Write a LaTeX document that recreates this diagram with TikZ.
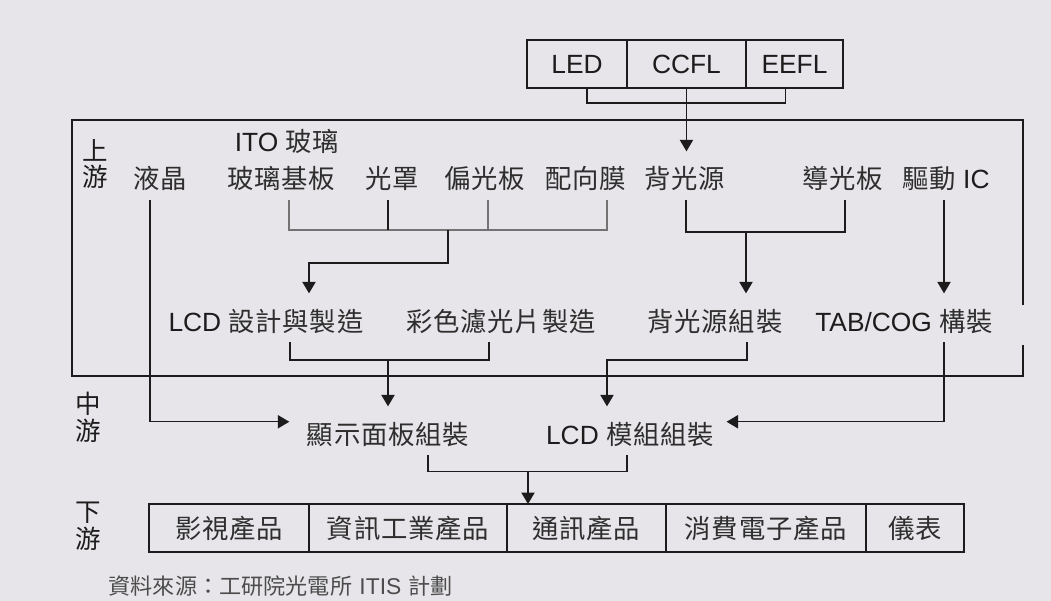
\documentclass[tikz,border=0pt]{standalone}
\usepackage{fontspec}
\setmainfont{Liberation Sans}
\newfontfamily\cjk[LetterSpace=3]{Noto Sans CJK TC}
\newfontfamily\cjkplain{Noto Sans CJK TC}
\usetikzlibrary{arrows.meta,positioning,calc}
\definecolor{paper}{RGB}{231,229,233}
\definecolor{ink}{RGB}{28,28,28}
\newcommand{\zh}[1]{{\fontsize{15}{18}\cjk\color{black!82}#1}}
\tikzset{
  lbl/.style={inner sep=0pt, text height=0.74cm, text depth=0.21cm, anchor=base},
  cell/.style={draw, inner sep=0pt, outer sep=0pt, minimum height=0.96cm},
  side/.style={inner sep=0pt, align=center, font=\fontsize{14.5}{15.3}\cjkplain\color{black!82}},
  arr/.style={-{Triangle[length=6.5pt,width=7.5pt]}},
  soft/.style={draw=black!55}
}
\begin{document}
\begin{tikzpicture}[x=0.02cm, y=-0.02cm, line width=0.75pt, color=ink, font=\fontsize{15}{18}\selectfont]
\fill[paper] (0,0) rectangle (1051,601);
%\draw[help lines] (0,0) grid[step=50] (1050,600);
% light sources
\node[cell, minimum width=2cm, anchor=north west] (led) at (527,40) {LED};
\node[cell, minimum width=2.38cm, right=0pt of led] (ccfl) {CCFL};
\node[cell, minimum width=1.94cm, right=0pt of ccfl] (eefl) {EEFL};
% upstream frame
\draw (1023,305) -- (1023,120) -- (72,120) -- (72,376) -- (1023,376) -- (1023,345);
\node[side] (up) at (95,164) {上\\游};
\node[side] (mid) at (88,417) {中\\游};
\node[side] (down) at (88,526) {下\\游};
% materials
\node[lbl] (ito) at (287,152) {ITO \zh{玻璃}};
\node[lbl] (lq) at (160,189) {\zh{液晶}};
\node[lbl] (gb) at (281,189) {\zh{玻璃基板}};
\node[lbl] (gz) at (392,189) {\zh{光罩}};
\node[lbl] (pg) at (485,189) {\zh{偏光板}};
\node[lbl] (px) at (586,189) {\zh{配向膜}};
\node[lbl] (bg) at (685,189) {\zh{背光源}};
\node[lbl] (dg) at (843,189) {\zh{導光板}};
\node[lbl] (ic) at (946,189) {\zh{驅動} IC};
% components
\node[lbl] (lcd) at (266,331) {LCD \zh{設計與製造}};
\node[lbl] (cf) at (501,331) {\zh{彩色濾光片製造}};
\node[lbl] (bla) at (715,331) {\zh{背光源組裝}};
\node[lbl] (tab) at (904,331) {TAB/COG \zh{構裝}};
% midstream
\node[lbl] (xs) at (388,444) {\zh{顯示面板組裝}};
\node[lbl] (lm) at (630,444) {LCD \zh{模組組裝}};
% downstream
\node[cell, minimum width=3.2cm, anchor=north west] (p1) at (149,504) {\zh{影視產品}};
\node[cell, minimum width=3.96cm, right=0pt of p1] (p2) {\zh{資訊工業產品}};
\node[cell, minimum width=3.18cm, right=0pt of p2] (p3) {\zh{通訊產品}};
\node[cell, minimum width=4cm, right=0pt of p3] (p4) {\zh{消費電子產品}};
\node[cell, minimum width=1.96cm, right=0pt of p4] (p5) {\zh{儀表}};
\node[anchor=west, inner sep=0pt, text=black!70] (src) at (108,586)
  {{\fontsize{12.6}{14}\cjkplain 資料來源：工研院光電所} {\fontsize{13}{14}\selectfont ITIS} {\fontsize{12.6}{14}\cjkplain 計劃}};
% connectors
\draw ($(led.south)+(10,0)$) -- ++(0,15) -| ($(eefl.south)+(-9,0)$);
\draw[arr] (ccfl.south) -- (ccfl.south |- bg.north);
\coordinate (gbf) at ($(gb.south)+(8,30)$);
\coordinate (pxf) at ($(px.south)+(21,30)$);
\draw[soft] ($(gb.south)+(8,0)$) -- (gbf) -- (pxf) -- ($(px.south)+(21,0)$);
\draw ($(gz.south)+(-4,0)$) -- ++(0,30);
\draw[soft] ($(pg.south)+(3,0)$) -- ++(0,30);
\draw[arr] ($(gbf)!.5!(pxf)$) -- ++(0,33) -| ($(lcd.north)+(43,0)$);
\draw ($(bg.south)+(1,0)$) -- ++(0,32) -| ($(dg.south)+(2,0)$);
\draw[arr] ($(bg.south)+(61,32)$) -- ($(bla.north)+(31,0)$);
\draw[arr] ($(ic.south)+(-2,0)$) -- ($(tab.north)+(40,0)$);
\draw[arr] ($(lq.south)+(-10,0)$) |- ($(xs.west)+(-17,-9)$);
\draw ($(lcd.south)+(24,0)$) -- ++(0,18) -| ($(cf.south)+(-12,0)$);
\draw[arr] ($(lcd.south)+(122,18)$) -- (xs.north);
\draw[arr] ($(bla.south)+(32,0)$) -- ++(0,18) -| ($(lm.north)+(-23,0)$);
\draw[arr] ($(tab.south)+(40,0)$) |- ($(lm.east)+(12,-9)$);
\draw ($(xs.south)+(40,0)$) -- ++(0,16) -| ($(lm.south)+(-3,0)$);
\coordinate (jx) at ($(xs.south)+(140,16)$);
\draw[arr] (jx) -- (jx |- p3.north);
\end{tikzpicture}
\end{document}
